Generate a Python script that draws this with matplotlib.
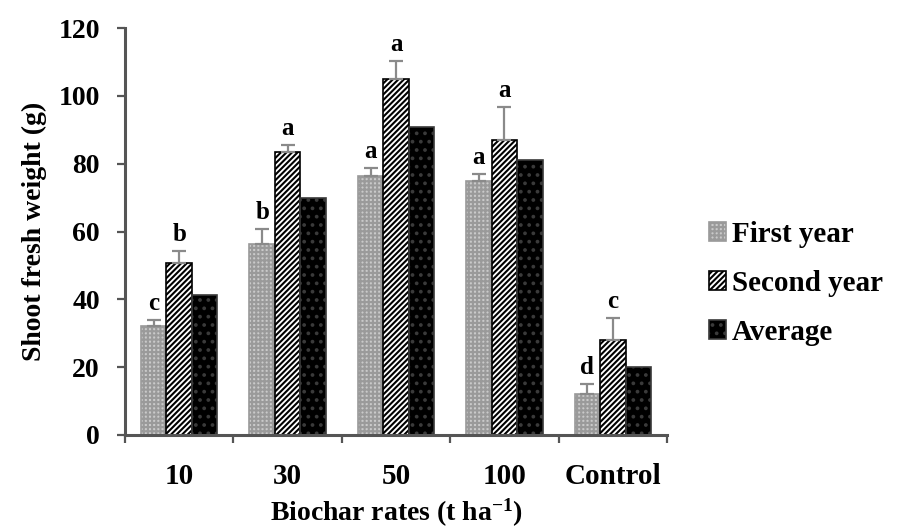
import matplotlib
matplotlib.use("Agg")
import matplotlib.pyplot as plt
import numpy as np

categories = ["10", "30", "50", "100", "Control"]
first_year = [32, 56.3, 76.4, 75, 12]
first_err = [2, 4.3, 2.4, 2, 3]
second_year = [50.7, 83.5, 105, 87, 28]
second_err = [3.6, 2, 5.3, 9.7, 6.5]
average = [41.3, 70, 90.8, 81, 20]
first_letters = ["c", "b", "a", "a", "d"]
second_letters = ["b", "a", "a", "a", "c"]

plt.rcParams["font.family"] = ["Liberation Serif", "DejaVu Serif"]
plt.rcParams["font.weight"] = "bold"
plt.rcParams["mathtext.fontset"] = "custom"
plt.rcParams["mathtext.rm"] = "Liberation Serif:bold"
plt.rcParams["mathtext.bf"] = "Liberation Serif:bold"
plt.rcParams["mathtext.default"] = "bf"
plt.rcParams["hatch.linewidth"] = 1.5

fig = plt.figure(figsize=(8.99, 5.31), dpi=100)
ax = fig.add_axes([0.139, 0.181, 0.603, 0.766])

x = np.arange(len(categories))
w = 0.235
ekw = dict(ecolor="#8a8a8a", elinewidth=1.6, capsize=5, capthick=1.6)

b1 = ax.bar(x - w, first_year, w, color="#cacaca", edgecolor="#9a9a9a", hatch="++++",
            linewidth=1.2, label="First year",
            yerr=[np.zeros(len(x)), first_err], error_kw=ekw)
b2 = ax.bar(x, second_year, w, color="white", edgecolor="black", hatch="//////",
            linewidth=1.2, label="Second year",
            yerr=[np.zeros(len(x)), second_err], error_kw=ekw)
b3 = ax.bar(x + w, average, w, color="black", edgecolor="#3a3a3a", hatch="..",
            linewidth=1.2, label="Average")

for i in range(len(x)):
    ax.text(x[i] - w, first_year[i] + first_err[i] + 1.5, first_letters[i],
            ha="center", va="bottom", fontsize=18, fontweight="bold")
    ax.text(x[i], second_year[i] + second_err[i] + 1.5, second_letters[i],
            ha="center", va="bottom", fontsize=18, fontweight="bold")

ax.set_xlim(-0.5, 4.5)
ax.set_ylim(0, 120)
ax.set_yticks(np.arange(0, 121, 20))
ax.set_xticks(np.arange(-0.5, 4.6, 1))
ax.set_xticklabels([])
ax.set_xticks(x, minor=True)
ax.set_xticklabels(categories, minor=True)
ax.tick_params(axis="x", which="minor", length=0, pad=20, labelsize=21)
ax.tick_params(axis="x", which="major", length=6, width=1.6, color="#555555")
ax.tick_params(axis="y", length=6, width=1.6, color="#555555", labelsize=20, pad=12)

for s in ["top", "right"]:
    ax.spines[s].set_visible(False)
for s in ["left", "bottom"]:
    ax.spines[s].set_linewidth(2.2)
    ax.spines[s].set_color("#555555")

ax.set_ylabel("Shoot fresh weight (g)", fontsize=20, fontweight="bold", labelpad=8)
ax.set_xlabel("Biochar rates (t ha$^{-1}$)", fontsize=20, fontweight="bold", labelpad=5)

ax.legend(handles=[b1, b2, b3], loc="center left", bbox_to_anchor=(1.055, 0.373),
          frameon=False, fontsize=21, handlelength=0.6, handleheight=0.6,
          handletextpad=0.2, labelspacing=0.75, borderaxespad=0)

fig.savefig("out.png", dpi=100)
plt.close(fig)
print("Saved: out.png")
